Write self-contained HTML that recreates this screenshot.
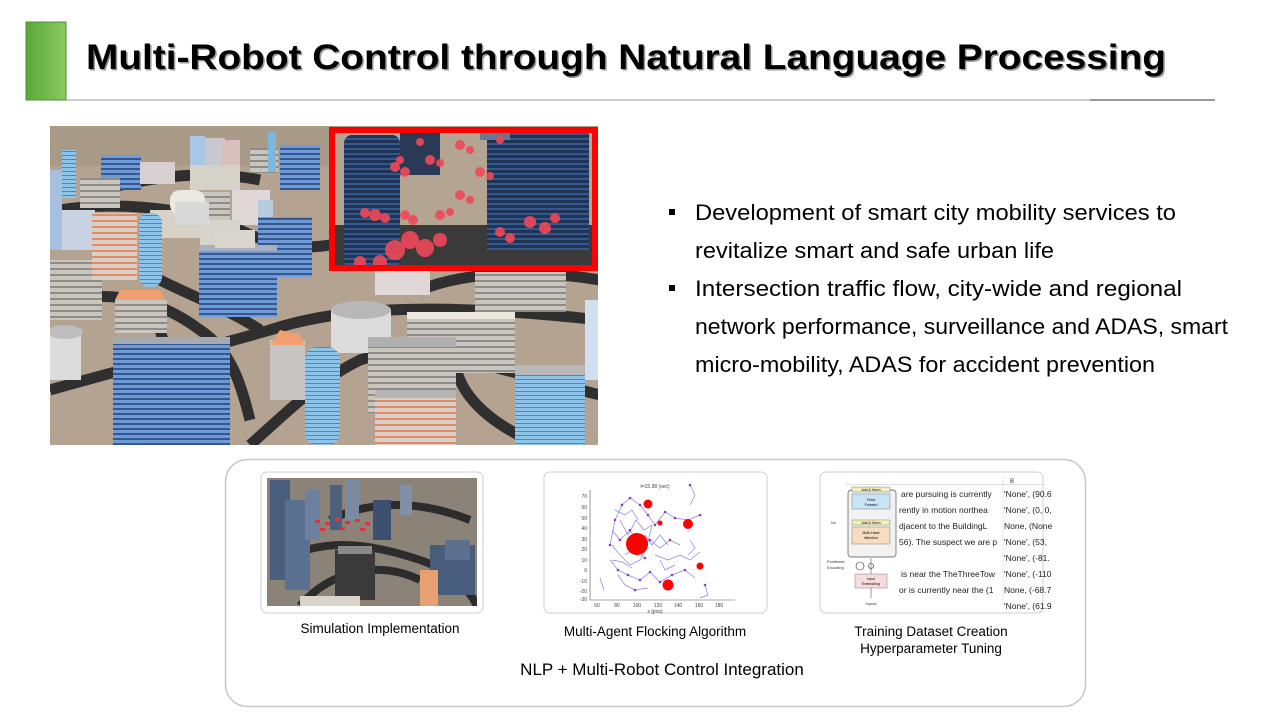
<!DOCTYPE html>
<html><head><meta charset="utf-8"><style>
body{margin:0;background:#fff;}
svg{display:block;}
</style></head><body>
<svg width="1280" height="720" viewBox="0 0 1280 720" xmlns="http://www.w3.org/2000/svg" font-family="Liberation Sans, sans-serif">
<defs>
<linearGradient id="g1" x1="0" x2="1"><stop offset="0" stop-color="#5aa83a"/><stop offset="1" stop-color="#8cc860"/></linearGradient>
<pattern id="bs" width="8" height="5" patternUnits="userSpaceOnUse"><rect width="8" height="5" fill="#6f9ad8"/><rect y="3" width="8" height="2" fill="#35568f"/></pattern>
<pattern id="gs" width="6" height="6" patternUnits="userSpaceOnUse"><rect width="6" height="6" fill="#c9c6c0"/><rect y="4" width="6" height="2" fill="#8f8c88"/></pattern>
<pattern id="os" width="6" height="6" patternUnits="userSpaceOnUse"><rect width="6" height="6" fill="#d9cfc6"/><rect y="4" width="6" height="2" fill="#e08a68"/></pattern>
<pattern id="lb" width="6" height="4" patternUnits="userSpaceOnUse"><rect width="6" height="4" fill="#8fc4ea"/><rect y="3" width="6" height="1" fill="#4e86b8"/></pattern>
<pattern id="nv" width="6" height="5" patternUnits="userSpaceOnUse"><rect width="6" height="5" fill="#1f3354"/><rect y="3" width="6" height="2" fill="#36588c"/></pattern>
<clipPath id="c1"><rect x="50" y="126" width="548" height="319"/></clipPath>
<clipPath id="t1"><rect x="267" y="478" width="210" height="128"/></clipPath>
</defs>

<!-- header -->
<rect x="26" y="22" width="40" height="78" fill="url(#g1)"/>
<rect x="26" y="22" width="40" height="78" fill="none" stroke="#4c9130" stroke-width="1"/>
<line x1="66" y1="100" x2="1215" y2="100" stroke="#9a9a9a" stroke-width="1"/>
<line x1="1090" y1="100" x2="1215" y2="100" stroke="#333" stroke-width="1"/>
<text x="87.5" y="70.5" font-size="35" font-weight="bold" fill="#9a9a9a" textLength="1080" lengthAdjust="spacingAndGlyphs">Multi-Robot Control through Natural Language Processing</text>
<text x="86" y="69" font-size="35" font-weight="bold" fill="#000" textLength="1080" lengthAdjust="spacingAndGlyphs">Multi-Robot Control through Natural Language Processing</text>

<!-- city image -->
<g clip-path="url(#c1)">
<rect x="50" y="126" width="548" height="319" fill="#b3a390"/>
<rect x="50" y="126" width="548" height="40" fill="#a99a88"/>
<g fill="none" stroke="#2f2f30" stroke-width="11">
<path d="M50,300 C120,290 160,300 200,330 C230,350 240,380 250,420"/>
<path d="M50,390 C120,370 200,350 270,330 C330,310 420,300 600,320"/>
<path d="M130,380 C160,380 190,400 210,445"/>
<path d="M250,445 C300,400 320,380 360,360 C420,340 500,370 600,395"/>
<path d="M420,290 C470,270 540,270 600,280"/>
<path d="M60,210 C120,200 200,210 240,230 C270,245 300,250 330,245"/>
<path d="M100,190 C160,175 210,170 260,180"/>
<path d="M160,280 C200,300 230,310 260,330"/>
<path d="M460,330 C440,380 480,420 540,445"/>
<path d="M160,330 C170,360 170,400 180,445"/>
</g>
<rect x="62" y="150" width="14" height="48" fill="url(#lb)"/>
<rect x="101" y="155" width="40" height="35" fill="url(#bs)"/>
<rect x="140" y="162" width="35" height="22" fill="#d8d0d0"/>
<rect x="80" y="178" width="40" height="30" fill="url(#gs)"/>
<rect x="190" y="136" width="15" height="40" fill="#a8c6e6"/>
<rect x="205" y="138" width="20" height="30" fill="#c8c8d0"/>
<rect x="222" y="140" width="18" height="30" fill="#d8c0bc"/>
<rect x="190" y="165" width="50" height="25" fill="#d6d2c8"/>
<rect x="250" y="148" width="28" height="25" fill="url(#gs)"/>
<rect x="268" y="132" width="8" height="40" fill="#7ab8e0"/>
<rect x="280" y="145" width="40" height="45" fill="url(#bs)"/>
<rect x="232" y="190" width="38" height="35" fill="#e0d8d8"/>
<rect x="200" y="192" width="30" height="32" fill="url(#gs)"/>
<rect x="150" y="210" width="55" height="28" fill="#d8d2c6"/>
<rect x="60" y="210" width="35" height="40" fill="#c8d2e0"/>
<rect x="50" y="170" width="12" height="80" fill="#a8c0e0"/>
<rect x="170" y="190" width="35" height="25" fill="#ece8e2" rx="10"/>
<rect x="200" y="220" width="40" height="35" fill="#d6d4cc"/>
<rect x="258" y="200" width="15" height="55" fill="#b8cce0"/>
<rect x="50" y="260" width="52" height="60" fill="url(#gs)"/>
<rect x="92" y="213" width="45" height="67" fill="url(#os)"/>
<rect x="139" y="213" width="23" height="74" rx="10" fill="url(#lb)"/>
<rect x="115" y="300" width="52" height="33" fill="url(#gs)"/>
<polygon points="115,300 165,300 160,290 120,290" fill="#f0a070"/>
<rect x="50" y="330" width="31" height="50" fill="#dcdcdc"/>
<ellipse cx="65" cy="332" rx="18" ry="7" fill="#bdbdbd"/>
<rect x="258" y="217" width="54" height="60" fill="url(#bs)"/>
<rect x="199" y="245" width="78" height="72" fill="url(#bs)"/>
<rect x="199" y="245" width="78" height="6" fill="#a8b0c0"/>
<rect x="113" y="337" width="117" height="108" fill="url(#bs)"/>
<rect x="113" y="337" width="117" height="7" fill="#a6aab2"/>
<rect x="175" y="202" width="34" height="23" fill="#d8d8d8"/>
<rect x="215" y="230" width="40" height="18" fill="#dad6ce"/>
<rect x="331" y="310" width="60" height="43" fill="#dcdcdc"/>
<ellipse cx="361" cy="310" rx="30" ry="9" fill="#b8b8b8"/>
<rect x="305" y="347" width="35" height="98" rx="12" fill="url(#lb)"/>
<rect x="270" y="340" width="35" height="60" fill="#c8c6c4"/>
<polygon points="270,345 305,345 300,335 280,330" fill="#f0a070"/>
<rect x="407" y="312" width="108" height="61" fill="url(#gs)"/>
<rect x="407" y="312" width="108" height="7" fill="#ece8e0"/>
<rect x="368" y="337" width="88" height="76" fill="url(#gs)"/>
<rect x="368" y="337" width="88" height="10" fill="#b0b0b0"/>
<rect x="375" y="390" width="81" height="55" fill="url(#os)"/>
<rect x="375" y="390" width="81" height="8" fill="#b4b4b4"/>
<rect x="475" y="272" width="91" height="40" fill="url(#gs)"/>
<rect x="515" y="365" width="70" height="80" fill="url(#lb)"/>
<rect x="515" y="365" width="70" height="10" fill="#b8b8b8"/>
<rect x="585" y="300" width="13" height="80" fill="#d0e0f0"/>
<rect x="375" y="265" width="55" height="30" fill="#e0d8d8"/>
</g>
<!-- red inset -->
<rect x="332" y="130" width="263" height="138" fill="#b3a592"/>
<rect x="332" y="225" width="263" height="43" fill="#3a3a3a"/>
<rect x="344" y="135" width="56" height="133" rx="8" fill="url(#nv)"/>
<rect x="400" y="130" width="40" height="45" fill="#2a3a56"/>
<rect x="487" y="130" width="102" height="120" fill="url(#nv)"/>
<rect x="480" y="130" width="30" height="10" fill="#6a7690"/>
<g fill="#f04858" opacity="0.9">
<circle cx="395" cy="167" r="5"/><circle cx="405" cy="172" r="5"/><circle cx="400" cy="160" r="4"/>
<circle cx="430" cy="160" r="5"/><circle cx="440" cy="163" r="4"/>
<circle cx="460" cy="145" r="5"/><circle cx="470" cy="150" r="4"/>
<circle cx="480" cy="172" r="5"/><circle cx="490" cy="176" r="4"/>
<circle cx="460" cy="195" r="5"/><circle cx="470" cy="200" r="4"/>
<circle cx="440" cy="215" r="5"/><circle cx="450" cy="212" r="4"/>
<circle cx="365" cy="213" r="5"/><circle cx="375" cy="215" r="6"/><circle cx="385" cy="218" r="5"/>
<circle cx="405" cy="215" r="5"/><circle cx="413" cy="220" r="5"/>
<circle cx="410" cy="240" r="9"/><circle cx="395" cy="250" r="10"/><circle cx="425" cy="248" r="9"/>
<circle cx="440" cy="240" r="7"/><circle cx="380" cy="262" r="7"/><circle cx="360" cy="262" r="6"/>
<circle cx="530" cy="222" r="6"/><circle cx="545" cy="228" r="6"/><circle cx="555" cy="218" r="5"/>
<circle cx="500" cy="232" r="5"/><circle cx="510" cy="238" r="5"/>
<circle cx="500" cy="140" r="4"/><circle cx="420" cy="142" r="4"/>
</g>
<rect x="332" y="130" width="263" height="138" fill="none" stroke="#ff0000" stroke-width="6"/>

<!-- bullets -->
<g font-size="22" fill="#000" lengthAdjust="spacingAndGlyphs">
<rect x="669" y="209" width="6" height="6"/>
<text x="695" y="220" textLength="481" lengthAdjust="spacingAndGlyphs">Development of smart city mobility services to</text>
<text x="695" y="258" textLength="359" lengthAdjust="spacingAndGlyphs">revitalize smart and safe urban life</text>
<rect x="669" y="285" width="6" height="6"/>
<text x="695" y="296" textLength="487" lengthAdjust="spacingAndGlyphs">Intersection traffic flow, city-wide and regional</text>
<text x="695" y="334" textLength="533" lengthAdjust="spacingAndGlyphs">network performance, surveillance and ADAS, smart</text>
<text x="695" y="372" textLength="460" lengthAdjust="spacingAndGlyphs">micro-mobility, ADAS for accident prevention</text>
</g>

<!-- bottom panel -->
<rect x="225.5" y="459.5" width="860" height="247" rx="22" fill="#fff" stroke="#c8c8c8" stroke-width="1.5"/>
<rect x="261" y="472" width="222" height="141" rx="6" fill="#fff" stroke="#cfcfcf"/>
<rect x="544" y="472" width="223" height="141" rx="6" fill="#fff" stroke="#cfcfcf"/>
<rect x="820" y="472" width="223" height="141" rx="6" fill="#fff" stroke="#cfcfcf"/>

<!-- thumb1 -->
<g clip-path="url(#t1)">
<rect x="267" y="478" width="210" height="128" fill="#8c8378"/>
<g fill="none" stroke="#2c2c2c" stroke-width="8">
<path d="M280,560 C320,540 360,540 420,560 C450,570 470,590 477,606"/>
<path d="M330,520 C370,500 420,500 470,520"/>
<path d="M300,606 C330,570 380,560 420,580"/>
</g>
<rect x="270" y="480" width="20" height="100" fill="#4a5e7e"/>
<rect x="285" y="500" width="25" height="90" fill="#5a7090"/>
<rect x="305" y="490" width="15" height="50" fill="#6c80a0"/>
<rect x="330" y="485" width="12" height="45" fill="#4c607e"/>
<rect x="345" y="480" width="14" height="40" fill="#7a8aa0"/>
<rect x="373" y="500" width="18" height="40" fill="#3e5070"/>
<rect x="400" y="485" width="12" height="30" fill="#8090a8"/>
<rect x="430" y="545" width="45" height="50" fill="#485c7c"/>
<rect x="445" y="540" width="25" height="20" fill="#5c7090"/>
<rect x="335" y="550" width="40" height="50" fill="#3a3a3a"/>
<rect x="338" y="546" width="34" height="8" fill="#8a8a8a"/>
<rect x="420" y="570" width="18" height="36" fill="#e8a070"/>
<rect x="300" y="596" width="60" height="10" fill="#d8d4cc"/>
<g fill="#e03040"><rect x="315" y="520" width="5" height="3"/><rect x="325" y="522" width="5" height="3"/><rect x="335" y="518" width="5" height="3"/><rect x="345" y="521" width="5" height="3"/><rect x="355" y="519" width="5" height="3"/><rect x="365" y="522" width="5" height="3"/><rect x="320" y="528" width="5" height="3"/><rect x="340" y="527" width="5" height="3"/><rect x="360" y="528" width="5" height="3"/></g>
</g>

<!-- thumb2 -->
<g>
<text x="655" y="488" font-size="5" fill="#444" text-anchor="middle">t=15.98 (sec)</text>
<line x1="590" y1="490" x2="590" y2="600" stroke="#555" stroke-width="0.6"/>
<line x1="590" y1="600" x2="735" y2="600" stroke="#555" stroke-width="0.6"/>
<g font-size="5" fill="#444" text-anchor="end">
<text x="587" y="498">70</text><text x="587" y="509">60</text><text x="587" y="520">50</text><text x="587" y="530">40</text><text x="587" y="541">30</text><text x="587" y="551">20</text><text x="587" y="562">10</text><text x="587" y="572">0</text><text x="587" y="583">-10</text><text x="587" y="593">-20</text><text x="587" y="601">-30</text>
</g>
<g font-size="5" fill="#444" text-anchor="middle">
<text x="597" y="607">60</text><text x="617" y="607">80</text><text x="637" y="607">100</text><text x="658" y="607">120</text><text x="678" y="607">140</text><text x="699" y="607">160</text><text x="719" y="607">180</text>
<text x="655" y="613">x (pos)</text>
</g>
<g stroke="#8a7ee8" stroke-width="0.7" fill="none">
<path d="M610,545 L615,520 L622,505 L630,498 L640,505 L648,515 L655,525 L665,512 L675,518 L688,520 L700,515"/>
<path d="M610,560 L618,570 L628,575 L640,580 L650,572 L660,582 L672,575 L685,570 L695,578"/>
<path d="M612,530 L620,540 L630,530 L640,545 L650,540 L660,548 L670,540 L680,545"/>
<path d="M618,575 L625,585 L635,590 L648,588"/>
<path d="M620,520 L628,535 L636,520 L644,530 L652,525 L646,550 L640,560 L630,565 L620,555 L612,545"/>
<path d="M655,555 L668,560 L680,555 L690,560 L700,552"/>
<path d="M690,485 L695,495 L690,505 M705,585 L708,595 L700,598 M600,578 L604,590 M645,535 L652,545 L660,535 L668,545 M625,555 L635,548 L645,558"/>
<path d="M615,510 L625,515 L632,510 L638,520 M612,560 L622,562 L632,568 M660,560 L665,570 L675,565 M690,540 L695,548 L688,555"/>
</g>
<g fill="#8a3cc8">
<circle cx="610" cy="545" r="1.3"/><circle cx="615" cy="520" r="1.3"/><circle cx="622" cy="505" r="1.3"/><circle cx="630" cy="498" r="1.3"/><circle cx="640" cy="505" r="1.3"/><circle cx="648" cy="515" r="1.3"/><circle cx="655" cy="525" r="1.3"/><circle cx="665" cy="512" r="1.3"/><circle cx="675" cy="518" r="1.3"/><circle cx="688" cy="520" r="1.3"/><circle cx="700" cy="515" r="1.3"/><circle cx="618" cy="570" r="1.3"/><circle cx="628" cy="575" r="1.3"/><circle cx="640" cy="580" r="1.3"/><circle cx="650" cy="572" r="1.3"/><circle cx="660" cy="582" r="1.3"/><circle cx="672" cy="575" r="1.3"/><circle cx="685" cy="570" r="1.3"/><circle cx="620" cy="540" r="1.3"/><circle cx="630" cy="530" r="1.3"/><circle cx="650" cy="540" r="1.3"/><circle cx="670" cy="540" r="1.3"/><circle cx="635" cy="590" r="1.3"/><circle cx="690" cy="485" r="1.3"/><circle cx="705" cy="585" r="1.3"/><circle cx="645" cy="558" r="1.3"/>
</g>
<g fill="#ff0000">
<circle cx="637" cy="544" r="11"/><circle cx="648" cy="504" r="4.5"/><circle cx="688" cy="524" r="5"/><circle cx="660" cy="523" r="2.5"/><circle cx="668" cy="585" r="5.5"/><circle cx="700" cy="566" r="3.5"/>
</g>
</g>

<!-- thumb3 -->
<g>
<rect x="845" y="484" width="200" height="1" fill="#ddd"/>
<text x="1010" y="483" font-size="6" fill="#333">B</text>
<line x1="1003" y1="476" x2="1003" y2="600" stroke="#ddd" stroke-width="0.6"/>
<rect x="848" y="490" width="48" height="67" rx="3" fill="#f2f2f2" stroke="#555" stroke-width="0.7"/>
<rect x="852" y="487" width="38" height="5" fill="#f4f0b8" stroke="#666" stroke-width="0.4"/>
<text x="871" y="491" font-size="3.5" text-anchor="middle">Add &amp; Norm</text>
<rect x="852" y="494" width="38" height="15" fill="#c8e4f4" stroke="#666" stroke-width="0.4"/>
<text x="871" y="501" font-size="3.5" text-anchor="middle">Feed</text><text x="871" y="506" font-size="3.5" text-anchor="middle">Forward</text>
<rect x="852" y="520" width="38" height="5" fill="#f4f0b8" stroke="#666" stroke-width="0.4"/>
<text x="871" y="524" font-size="3.5" text-anchor="middle">Add &amp; Norm</text>
<rect x="852" y="527" width="38" height="17" fill="#f8dcc0" stroke="#666" stroke-width="0.4"/>
<text x="871" y="534" font-size="3.5" text-anchor="middle">Multi-Head</text><text x="871" y="539" font-size="3.5" text-anchor="middle">Attention</text>
<text x="831" y="524" font-size="4" fill="#333">Nx</text>
<text x="827" y="563" font-size="4" fill="#333">Positional</text><text x="827" y="569" font-size="4" fill="#333">Encoding</text>
<circle cx="860" cy="566" r="4" fill="none" stroke="#333" stroke-width="0.6"/>
<circle cx="871" cy="566" r="2.5" fill="none" stroke="#333" stroke-width="0.6"/>
<line x1="871" y1="558" x2="871" y2="598" stroke="#333" stroke-width="0.5"/>
<rect x="855" y="574" width="32" height="14" fill="#f6dcdc" stroke="#666" stroke-width="0.4"/>
<text x="871" y="580" font-size="3.5" text-anchor="middle">Input</text><text x="871" y="585" font-size="3.5" text-anchor="middle">Embedding</text>
<text x="871" y="605" font-size="4" text-anchor="middle" fill="#333">Inputs</text>
<g font-size="8.5" fill="#222">
<text x="901" y="497">are pursuing is currently</text><text x="1004" y="497">'None', (90.6</text>
<text x="899" y="513">rently in motion northea</text><text x="1004" y="513">'None', (0, 0,</text>
<text x="899" y="529">djacent to the BuildingL</text><text x="1004" y="529">None, (None</text>
<text x="899" y="545">56). The suspect we are p</text><text x="1004" y="545">'None', (53,</text>
<text x="1004" y="561">'None', (-81.</text>
<text x="901" y="577">is near the TheThreeTow</text><text x="1004" y="577">'None', (-110</text>
<text x="899" y="593">or is currently near the (1</text><text x="1004" y="593">None, (-68.7</text>
<text x="1004" y="609">'None', (61.9</text>
</g>
</g>

<!-- captions -->
<g font-size="13.5" fill="#000" text-anchor="middle">
<text x="380" y="633">Simulation Implementation</text>
<text x="655" y="636">Multi-Agent Flocking Algorithm</text>
<text x="931" y="636">Training Dataset Creation</text>
<text x="931" y="653">Hyperparameter Tuning</text>
</g>
<text x="662" y="675" font-size="17" text-anchor="middle" fill="#000">NLP + Multi-Robot Control Integration</text>
</svg>
</body></html>
